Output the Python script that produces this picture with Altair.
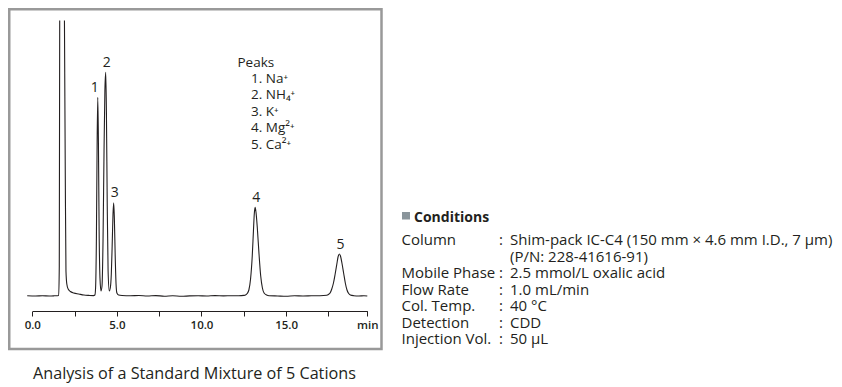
import altair as alt
import pandas as pd

# ---- chromatogram trace (time in min, signal in a.u.) ----
# segment A: start of trace up to the (off-scale) system peak top
seg_a_time = [-0.3, 0.2, 0.6, 1.0, 1.3, 1.56, 1.595, 1.62]
seg_a_signal = [0.3, 0.0, 0.3, 0.0, 0.2, 0.5, 30.0, 275.5]

# segment B: from the system peak top to the end of the run
seg_b_time = [1.90, 1.95, 1.99, 2.04, 2.12, 2.25, 2.45, 2.75, 3.05, 3.35, 3.62,
              3.70, 3.74, 3.79, 3.83, 3.87, 3.91, 3.95, 4.00, 4.06,
              4.12, 4.18, 4.24, 4.29, 4.34, 4.38, 4.43, 4.48, 4.55,
              4.61, 4.67, 4.72, 4.77, 4.81, 4.85, 4.90, 4.95, 5.00, 5.10,
              5.30, 5.8, 6.3, 6.8, 7.3, 7.8, 8.3, 8.8, 9.3, 9.8, 10.3, 10.8,
              11.3, 11.8, 12.2, 12.5, 12.6, 12.7, 12.8, 12.9, 13.0, 13.07,
              13.12, 13.17, 13.22, 13.3, 13.4, 13.5, 13.6, 13.7, 13.85, 14.0,
              14.5, 15.0, 15.5, 16.0, 16.5, 17.0, 17.4, 17.5, 17.6, 17.7,
              17.8, 17.9, 18.0, 18.07, 18.15, 18.23, 18.3, 18.4, 18.5, 18.6,
              18.7, 18.8, 19.0, 19.3, 19.6, 19.8]
seg_b_signal = [275.5, 120, 25, 12, 7, 4.5, 3, 2, 1, 0.6, 0.4,
                1, 8, 60, 150, 198.7, 150, 65, 18, 5,
                10, 55, 145, 205, 223.7, 185, 90, 25, 5,
                8, 22, 50, 82, 93.3, 78, 40, 12, 3, 1,
                0.5, 0.2, 0.5, 0.0, 0.4, -0.2, 0.2, -0.3, 0.1, 0.3, 0.0, 0.4,
                0.1, 0.3, 0.2, 0.6, 1, 2.5, 6, 17, 40, 65,
                82, 88.7, 84, 68, 42, 20, 8, 3, 1, 0.3,
                0.0, -0.3, 0.3, 0.0, 0.2, 0.3, 0.8, 1.5, 3, 7,
                13, 22, 32, 39, 42, 39, 33, 23, 13, 6,
                2.5, 1, 0.3, 0.0, 0.3, 0.0]

# ---- peaks ----
peak_numbers = ["1", "2", "3", "4", "5"]
peak_times = [3.87, 4.34, 4.81, 13.17, 18.15]
peak_heights = [198.7, 223.7, 93.3, 88.7, 42.0]
peak_names = ["1. Na⁺", "2. NH₄⁺", "3. K⁺", "4. Mg²⁺", "5. Ca²⁺"]

# ---- axis ----
tick_values = [0, 2.5, 5, 7.5, 10, 12.5, 15, 17.5, 19.8]

# ---- conditions ----
cond_labels = ["Column", "", "Mobile Phase", "Flow Rate", "Col. Temp.",
               "Detection", "Injection Vol."]
cond_colons = [":", "", ":", ":", ":", ":", ":"]
cond_values = ["Shim-pack IC-C4 (150 mm × 4.6 mm I.D., 7 μm)",
               "(P/N: 228-41616-91)",
               "2.5 mmol/L oxalic acid",
               "1.0 mL/min",
               "40 °C",
               "CDD",
               "50 μL"]
caption = "Analysis of a Standard Mixture of 5 Cations"

FONT = "Open Sans"
INK = "#231f20"
COND_SIZE = 15
COND_LH = 16.55

trace = pd.concat([
    pd.DataFrame({"t": seg_a_time, "s": seg_a_signal, "seg": "a"}),
    pd.DataFrame({"t": seg_b_time, "s": seg_b_signal, "seg": "b"}),
], ignore_index=True)
peaks = pd.DataFrame({"num": peak_numbers, "t": peak_times, "s": peak_heights})
cond = pd.DataFrame({"row": list(range(len(cond_labels))), "label": cond_labels,
                     "colon": cond_colons, "value": cond_values})

xscale = alt.Scale(domain=[0, 19.8], range=[24.3, 359.3])
yscale = alt.Scale(domain=[0, 280], range=[288, 8])
rows_y = 237
rowscale = alt.Scale(domain=[0, len(cond_labels) - 1],
                     range=[rows_y, rows_y + COND_LH * (len(cond_labels) - 1)])

one = alt.Data(values=[{"k": 1}])

border = alt.Chart(one).mark_rect(
    fill="white", fillOpacity=0, stroke="#999999", strokeWidth=2.5
).encode(x=alt.value(1.25), x2=alt.value(373.5), y=alt.value(1.25), y2=alt.value(341))

line = alt.Chart(trace).mark_line(
    color=INK, strokeWidth=1.1, interpolate="monotone"
).encode(
    x=alt.X("t:Q", scale=xscale, title="",
            axis=alt.Axis(values=tick_values, grid=False,
                          labelExpr="datum.value == 19.8 ? 'min' : (datum.value % 5 == 0 ? format(datum.value, '.1f') : '')",
                          domainColor=INK, tickColor=INK, tickSize=5, tickWidth=1,
                          labelFont=FONT, labelFontSize=11.5, labelFontWeight=600,
                          labelColor=INK, labelPadding=3, labelFlush=False,
                          labelOverlap=False)),
    y=alt.Y("s:Q", scale=yscale, axis=None),
    detail="seg:N",
)

lab1 = alt.Chart(peaks).transform_filter("datum.num == '1'").mark_text(
    font=FONT, fontSize=14, color=INK, dx=-3, dy=-9.5, baseline="middle"
).encode(x=alt.X("t:Q", scale=xscale), y=alt.Y("s:Q", scale=yscale, axis=None), text="num:N")
labs = alt.Chart(peaks).transform_filter("datum.num != '1'").mark_text(
    font=FONT, fontSize=14, color=INK, dx=1, dy=-9.5, baseline="middle"
).encode(x=alt.X("t:Q", scale=xscale), y=alt.Y("s:Q", scale=yscale, axis=None), text="num:N")

peaks_title = alt.Chart(one).mark_text(
    font=FONT, fontSize=13.5, color=INK, align="left", baseline="alphabetic"
).encode(x=alt.value(229.5), y=alt.value(59), text=alt.value("Peaks"))
peaks_list = alt.Chart(one).mark_text(
    font=FONT, fontSize=13.5, color=INK, align="left", baseline="alphabetic",
    lineHeight=16.5
).encode(x=alt.value(243), y=alt.value(74.7), text=alt.value(peak_names))

square = alt.Chart(one).mark_rect(color="#8a959b").encode(
    x=alt.value(394), x2=alt.value(402), y=alt.value(204), y2=alt.value(211.5))
cond_head = alt.Chart(one).mark_text(
    font=FONT, fontSize=14, fontWeight="bold", color=INK, align="left",
    baseline="alphabetic"
).encode(x=alt.value(406), y=alt.value(213.5), text=alt.value("Conditions"))

def cond_col(field, xpos):
    return alt.Chart(cond).mark_text(
        font=FONT, fontSize=COND_SIZE, color=INK, align="left", baseline="alphabetic"
    ).encode(x=alt.value(xpos), y=alt.Y("row:Q", scale=rowscale, axis=None),
             text=f"{field}:N")

cond_layer = alt.layer(cond_col("label", 393.5), cond_col("colon", 491),
                       cond_col("value", 502))

cap = alt.Chart(one).mark_text(
    font=FONT, fontSize=16.2, color=INK, align="left", baseline="alphabetic"
).encode(x=alt.value(25), y=alt.value(371), text=alt.value(caption))

plot_layer = alt.layer(border, line, lab1, labs, peaks_title, peaks_list,
                       square, cond_head, cap)

chart = alt.layer(plot_layer, cond_layer).resolve_scale(y="independent").properties(
    width=826, height=303,
    padding={"left": 0, "top": 0, "right": 0, "bottom": 73},
    autosize=alt.AutoSizeParams(type="none"),
).configure_view(strokeWidth=0)

chart.save("out.html", embed_options={"renderer": "svg", "actions": False})
